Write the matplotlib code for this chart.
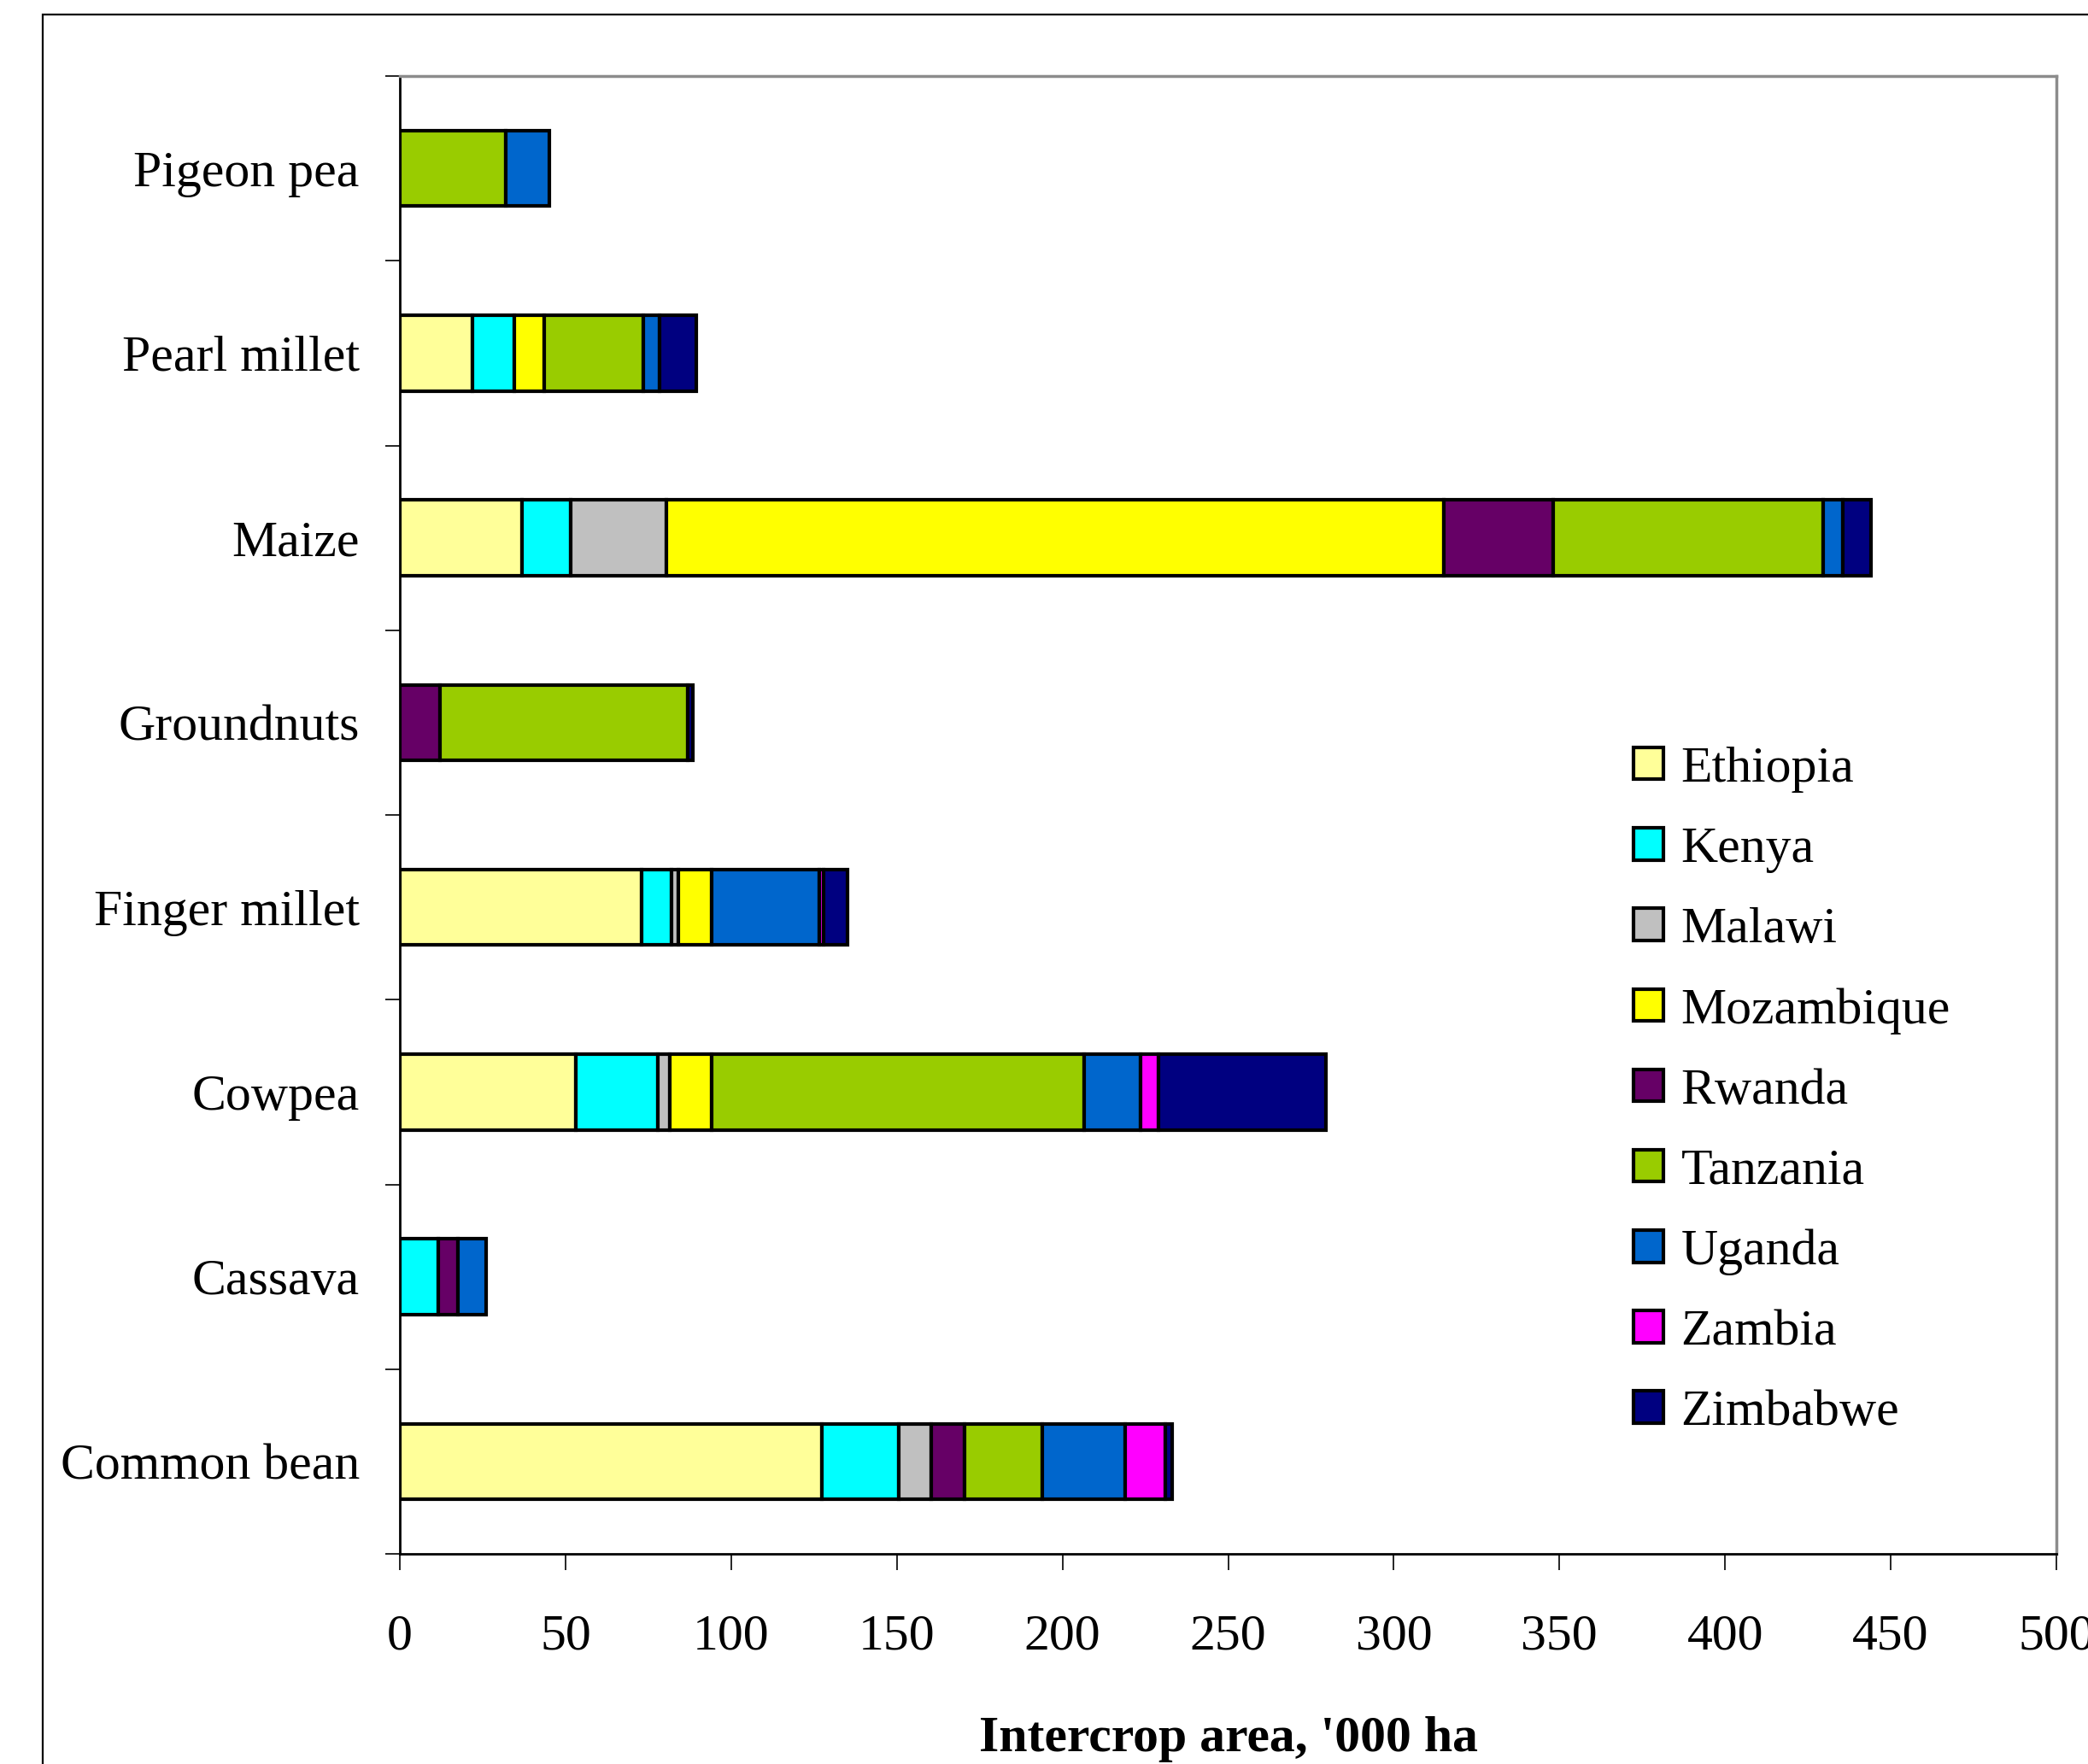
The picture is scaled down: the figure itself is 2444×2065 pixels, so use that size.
import numpy as np
import matplotlib.pyplot as plt
from matplotlib.patches import Rectangle

plt.rcParams['font.family'] = ['Liberation Serif', 'DejaVu Serif']

crops = ["Common bean", "Cassava", "Cowpea", "Finger millet",
         "Groundnuts", "Maize", "Pearl millet", "Pigeon pea"]
countries = ["Ethiopia", "Kenya", "Malawi", "Mozambique", "Rwanda",
             "Tanzania", "Uganda", "Zambia", "Zimbabwe"]

# intercrop area, '000 ha (order follows crops list)
ethiopia = [127.5, 0, 53, 73, 0, 37, 22, 0]
kenya = [23, 11.5, 25, 9, 0, 14.5, 12.5, 0]
malawi = [10, 0, 3.5, 2, 0, 29, 0, 0]
mozambique = [0, 0, 12.5, 10, 0, 234.5, 9, 0]
rwanda = [10, 6, 0, 0, 12, 33, 0, 0]
tanzania = [23.5, 0, 112.5, 0, 75, 81.5, 30, 32]
uganda = [25, 8.5, 17, 32.5, 0, 6, 5, 13]
zambia = [12, 0, 5.5, 1.5, 0, 0, 0, 0]
zimbabwe = [2, 0, 50.5, 7, 1.5, 8.5, 11, 0]

series = [ethiopia, kenya, malawi, mozambique, rwanda,
          tanzania, uganda, zambia, zimbabwe]
colors = ["#FFFF99", "#00FFFF", "#C0C0C0", "#FFFF00", "#660066",
          "#99CC00", "#0066CC", "#FF00FF", "#000080"]

W, H = 2444, 2065
fig = plt.figure(figsize=(W / 100, H / 100), dpi=100)
ax = fig.add_axes([468 / W, 1 - 1819 / H, (2407 - 468) / W, (1819 - 89) / H])

y = np.arange(len(crops))
left = np.zeros(len(crops))
handles = []
for name, vals, col in zip(countries, series, colors):
    vals = np.array(vals, dtype=float)
    nz = vals > 0
    ax.barh(y[nz], vals[nz], left=left[nz], height=0.41, color=col,
            edgecolor="black", linewidth=3)
    handles.append(Rectangle((0, 0), 1, 1, facecolor=col,
                             edgecolor="black", linewidth=3, label=name))
    left += vals

ax.set_xlim(0, 500)
ax.set_ylim(-0.5, len(crops) - 0.5)
ax.set_xticks(np.arange(0, 501, 50))
ax.tick_params(axis="x", direction="out", length=14, width=1.2,
               labelsize=43, pad=37)

ax.set_yticks(np.arange(-0.5, len(crops), 1.0))
ax.set_yticklabels([])
ax.tick_params(axis="y", which="major", direction="out", length=12, width=1.2)
ax.set_yticks(y, minor=True)
ax.set_yticklabels(crops, minor=True)
ax.tick_params(axis="y", which="minor", length=0, labelsize=43, pad=34)

for s in ["top", "right"]:
    ax.spines[s].set_color("#8c8c8c")
    ax.spines[s].set_linewidth(2.5)
ax.spines["left"].set_color("black")
ax.spines["left"].set_linewidth(2)
ax.spines["bottom"].set_color("black")
ax.spines["bottom"].set_linewidth(2)

ax.set_xlabel("Intercrop area, '000 ha", fontsize=43, fontweight="bold",
              labelpad=47)

ax.legend(handles=handles, loc="upper left",
          bbox_to_anchor=(1912 / W, 1 - 874 / H),
          bbox_transform=fig.transFigure, frameon=False, fontsize=43,
          handlelength=0.58, handleheight=0.58, handletextpad=0.35,
          labelspacing=0.67, borderaxespad=0, borderpad=0)

# outer chart frame (extends past the image on right and bottom)
fig.patches.append(Rectangle((50 / W, -0.1), 1.2, 1.1 - 17 / H,
                             transform=fig.transFigure, fill=False,
                             edgecolor="black", linewidth=1.6))

fig.savefig("out.png", dpi=100)
